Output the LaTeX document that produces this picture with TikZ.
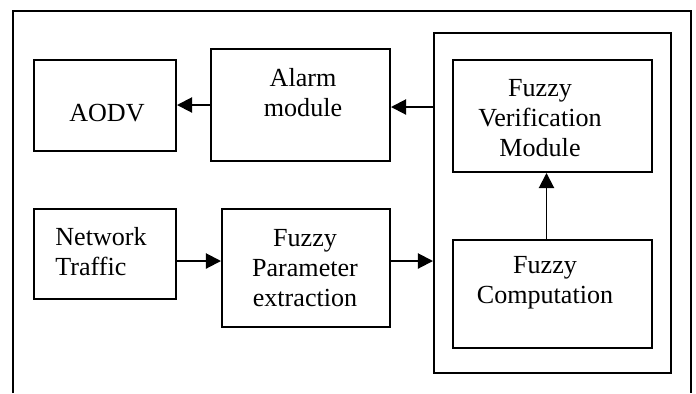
\documentclass[tikz,border=0pt]{standalone}
\usepackage{fontspec}
\setmainfont{Liberation Serif}
\usetikzlibrary{positioning, calc, arrows.meta}

\begin{document}
\begin{tikzpicture}[x=0.46pt, y=-0.46pt, line width=0.9pt,
    blk/.style={draw, inner sep=0pt},
    lbl/.style={align=center, inner sep=0pt, font=\fontsize{12pt}{13.8pt}\selectfont},
    arr/.style={-{Triangle[length=7pt, width=7pt]}}]
    \useasboundingbox (0,0) rectangle (696,393);

    % outer frame, open at the bottom
    \draw (13,393) -- (13,11) -- (691,11) -- (691,393);

    % boxes
    \node[blk, minimum width=142*0.46pt, minimum height=91*0.46pt] (aodv) at (105,105.5) {};
    \node[blk, minimum width=179*0.46pt, minimum height=112*0.46pt] (alarm) at (300.5,105) {};
    \node[blk, minimum width=237*0.46pt, minimum height=340*0.46pt] (core) at (552.5,203) {};
    \node[blk, minimum width=199*0.46pt, minimum height=112*0.46pt] (verif) at (552.5,116) {};
    \node[blk, minimum width=142*0.46pt, minimum height=90*0.46pt] (traffic) at (105,254) {};
    \node[blk, minimum width=168*0.46pt, minimum height=118*0.46pt] (param) at (306,268) {};
    \node[blk, minimum width=199*0.46pt, minimum height=108*0.46pt] (comp) at (552.5,294) {};

    % texts
    \node[lbl] (aodvT) at (107,113) {AODV};
    \node[lbl] (alarmT) at (303,93) {Alarm\\module};
    \node[lbl] (verifT) at (540,118) {Fuzzy\\Verification\\Module};
    \node[lbl, align=left] (trafficT) at (101,252) {Network\\Traffic};
    \node[lbl] (paramT) at (305,268) {Fuzzy\\Parameter\\extraction};
    \node[lbl] (compT) at (545,283) {Fuzzy\\Computation};

    % connector ends
    \coordinate (alarmR) at ($(alarm.east)+(0,2)$);
    \coordinate (trafficR) at ($(traffic.east)+(0,7)$);
    \coordinate (paramR) at ($(param.east)+(0,-7)$);
    \coordinate (compU) at ($(comp.north)+(-6,0)$);

    % connectors
    \draw[arr] (alarm.west) -- (alarm.west -| aodv.east);
    \draw[arr] (alarmR -| core.west) -- (alarmR);
    \draw[arr] (trafficR) -- (trafficR -| param.west);
    \draw[arr] (paramR) -- (paramR -| core.west);
    \draw[arr] (compU) -- (compU |- verif.south);
\end{tikzpicture}
\end{document}
